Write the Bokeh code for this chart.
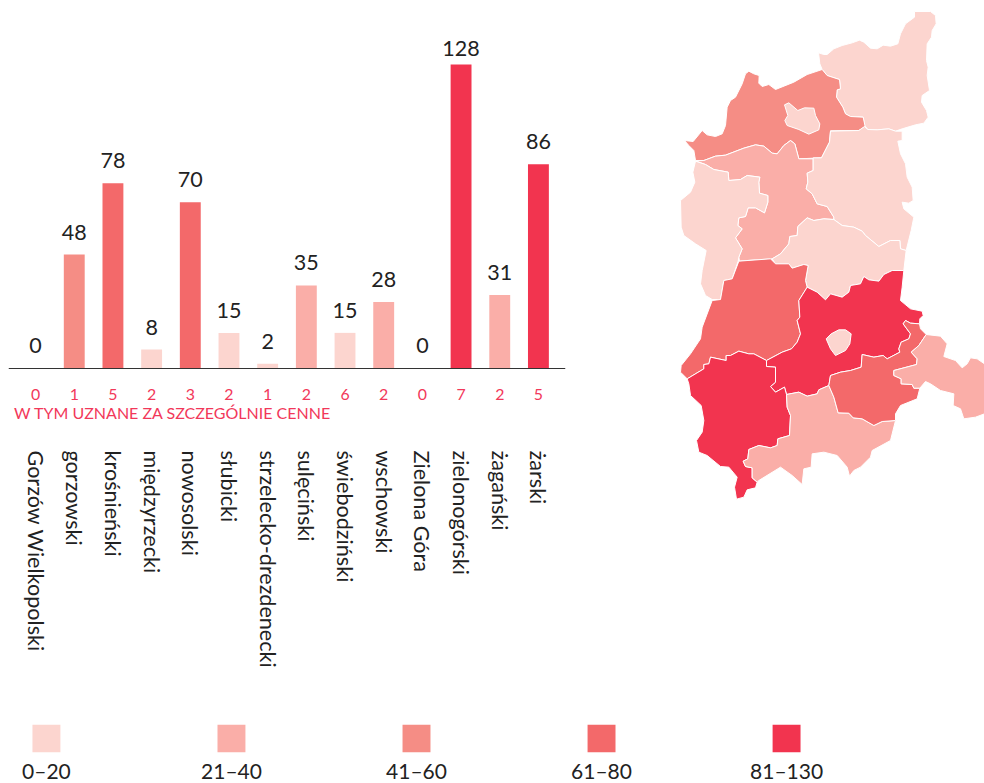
import math
from bokeh.plotting import figure
from bokeh.models import FactorRange, Range1d
from bokeh.layouts import row, column
from bokeh.core.properties import value
from bokeh.embed import file_html
from bokeh.resources import INLINE

FONT = "Lato"
categories = ["Gorzów Wielkopolski", "gorzowski", "krośnieński", "międzyrzecki", "nowosolski", "słubicki",
              "strzelecko-drezdenecki", "sulęciński", "świebodziński", "wschowski", "Zielona Góra",
              "zielonogórski", "żagański", "żarski"]
totals = [0, 48, 78, 8, 70, 15, 2, 35, 15, 28, 0, 128, 31, 86]
special = [0, 1, 5, 2, 3, 2, 1, 2, 6, 2, 0, 7, 2, 5]
bin_labels = ["0–20", "21–40", "41–60", "61–80", "81–130"]
bin_tops = [20, 40, 60, 80, 130]
bin_colors = ["#fcd5cf", "#faaea8", "#f58d85", "#f3696a", "#f2344f"]
note = "W TYM UZNANE ZA SZCZEGÓLNIE CENNE"

# county outlines (map units)
strzelecko = [(474,157),(490,162),(500,162),(520,145),(545,135),(575,127),(597,119),(610,125),(630,143),(650,145),(668,134),(690,137),(712,130),(720,100),(735,70),(762,50),(762,33),(810,33),(825,45),(827,70),(815,90),(813,110),(800,130),(798,180),(803,200),(800,225),(807,270),(785,285),(783,305),(798,330),(803,350),(790,368),(765,373),(725,385),(705,392),(685,385),(650,388),(622,387),(612,375),(608,350),(570,348),(555,340),(547,320),(528,290),(530,268),(540,265),(537,237),(515,230),(500,225),(485,207),(478,190)]
gorzowski = [(72,420),(98,423),(125,390),(140,403),(165,408),(185,400),(195,375),(200,320),(210,300),(225,290),(245,250),(255,220),(265,212),(280,220),(296,225),(295,248),(305,258),(325,252),(345,267),(400,245),(440,222),(485,207),(500,225),(515,230),(537,237),(540,265),(530,268),(528,290),(547,320),(555,340),(570,348),(608,350),(614,378),(595,390),(510,391),(507,425),(483,472),(415,475),(403,430),(390,420),(370,435),(350,460),(335,458),(310,437),(285,433),(250,443),(195,464),(165,467),(130,480),(105,480),(100,450),(85,435)]
gorzow = [(372,313),(385,307),(412,330),(432,322),(460,323),(465,345),(478,370),(475,388),(445,401),(415,387),(380,375),(373,360),(382,345)]
sulecinski = [(105,481),(130,480),(165,467),(195,464),(250,443),(285,433),(310,437),(335,458),(350,460),(370,435),(390,420),(403,430),(415,475),(458,475),(458,510),(440,518),(442,545),(437,565),(455,580),(470,610),(500,618),(520,650),(520,657),(490,655),(460,660),(440,652),(412,678),(410,705),(388,708),(385,730),(360,760),(335,775),(260,780),(237,782),(235,770),(245,745),(225,712),(245,685),(232,675),(235,652),(255,648),(263,622),(285,622),(312,637),(322,605),(322,585),(297,578),(295,545),(298,530),(260,525),(240,537),(205,540),(203,515),(160,507),(135,492)]
slubicki = [(105,482),(135,492),(160,507),(203,515),(205,540),(240,537),(260,525),(298,530),(295,545),(297,578),(322,585),(322,605),(312,637),(285,622),(263,622),(255,648),(235,652),(232,675),(245,685),(225,712),(245,745),(235,770),(233,782),(215,835),(190,840),(180,897),(155,897),(135,885),(120,850),(125,810),(137,750),(105,730),(70,705),(62,680),(60,600),(90,575),(103,545),(97,515)]
miedzyrzecki = [(510,392),(595,390),(612,378),(622,387),(650,388),(685,385),(705,392),(725,392),(725,420),(712,422),(720,460),(735,490),(740,530),(755,560),(758,600),(745,608),(725,605),(730,625),(760,650),(752,690),(737,750),(720,745),(718,720),(690,720),(655,738),(615,705),(605,692),(580,680),(545,675),(520,657),(520,650),(500,618),(470,610),(455,580),(437,565),(442,545),(440,518),(458,510),(458,472),(483,472),(507,425)]
swiebodzinski = [(490,655),(520,657),(545,675),(580,680),(605,692),(615,705),(655,738),(690,720),(718,720),(720,745),(737,750),(730,810),(695,810),(670,822),(655,842),(625,838),(610,828),(600,850),(570,855),(565,875),(545,890),(510,880),(495,898),(470,875),(440,860),(435,840),(443,795),(430,792),(395,803),(385,790),(345,790),(335,775),(360,760),(385,730),(388,708),(410,705),(412,678),(440,652),(460,660)]
krosnienski = [(235,782),(330,775),(345,790),(385,790),(395,803),(430,792),(443,795),(435,840),(440,860),(415,900),(418,950),(410,960),(420,1000),(410,1025),(393,1045),(365,1055),(318,1080),(280,1060),(265,1060),(235,1052),(210,1065),(197,1065),(197,1080),(150,1070),(145,1090),(130,1092),(130,1105),(80,1135),(60,1115),(62,1095),(90,1060),(120,1015),(125,980),(155,900),(180,897),(190,840),(215,835)]
zielonogorski = [(440,860),(470,875),(495,898),(510,880),(545,890),(565,875),(570,855),(600,850),(610,828),(625,838),(655,842),(670,822),(695,810),(730,810),(725,860),(720,900),(750,925),(785,932),(788,945),(778,955),(777,970),(750,968),(735,960),(728,970),(750,1000),(745,1015),(722,1025),(715,1045),(718,1055),(680,1075),(668,1065),(640,1070),(605,1062),(602,1100),(570,1110),(540,1115),(510,1125),(505,1155),(475,1168),(470,1180),(440,1187),(415,1175),(378,1182),(372,1160),(345,1175),(330,1158),(345,1145),(345,1100),(318,1098),(318,1080),(365,1055),(393,1045),(410,1025),(420,1000),(410,960),(418,950),(415,900)]
zielona_gora = [(497,1015),(512,1000),(535,988),(555,988),(572,1000),(568,1030),(555,1050),(525,1065),(510,1045)]
zarski = [(80,1135),(130,1105),(130,1092),(145,1090),(150,1070),(197,1080),(197,1065),(210,1065),(235,1052),(265,1060),(280,1060),(318,1080),(318,1098),(345,1100),(345,1145),(330,1158),(345,1175),(372,1160),(378,1182),(380,1220),(390,1245),(387,1305),(352,1315),(350,1335),(330,1342),(295,1335),(265,1347),(262,1375),(248,1382),(255,1398),(275,1402),(275,1432),(290,1445),(285,1462),(260,1468),(250,1490),(228,1496),(222,1460),(230,1430),(205,1400),(180,1398),(140,1365),(115,1355),(108,1320),(125,1295),(130,1260),(122,1215),(90,1185),(85,1150)]
zaganski = [(378,1182),(415,1175),(440,1187),(470,1180),(475,1168),(505,1155),(520,1190),(533,1237),(565,1238),(578,1252),(605,1255),(640,1275),(665,1263),(705,1260),(690,1320),(635,1350),(630,1370),(600,1400),(580,1410),(567,1427),(560,1400),(530,1365),(490,1355),(455,1360),(452,1400),(430,1405),(425,1452),(395,1425),(360,1400),(295,1440),(290,1445),(275,1432),(275,1402),(255,1398),(248,1382),(262,1375),(265,1347),(295,1335),(330,1342),(350,1335),(352,1315),(387,1305),(390,1245),(380,1220)]
nowosolski = [(505,1155),(510,1125),(540,1115),(570,1110),(602,1100),(605,1062),(640,1070),(668,1065),(680,1075),(718,1055),(715,1045),(722,1025),(745,1015),(750,1000),(728,970),(735,960),(750,968),(777,970),(780,985),(797,1002),(775,1035),(752,1055),(770,1075),(768,1092),(700,1110),(700,1125),(722,1135),(722,1150),(755,1152),(760,1163),(778,1163),(770,1195),(720,1215),(705,1240),(705,1260),(665,1263),(640,1275),(605,1255),(578,1252),(565,1238),(533,1237),(520,1190)]
wschowski = [(797,1002),(840,1007),(860,1030),(850,1068),(885,1080),(905,1102),(920,1090),(930,1072),(950,1075),(972,1090),(972,1240),(945,1250),(910,1255),(900,1225),(878,1215),(880,1180),(840,1170),(810,1150),(795,1143),(778,1163),(760,1163),(755,1152),(722,1150),(722,1135),(700,1125),(700,1110),(768,1092),(770,1075),(752,1055),(775,1035)]

map_shapes = [("strzelecko-drezdenecki", strzelecko), ("gorzowski", gorzowski), ("Gorzów Wielkopolski", gorzow),
              ("sulęciński", sulecinski), ("słubicki", slubicki), ("międzyrzecki", miedzyrzecki),
              ("świebodziński", swiebodzinski), ("krośnieński", krosnienski), ("zielonogórski", zielonogorski),
              ("Zielona Góra", zielona_gora), ("żarski", zarski), ("żagański", zaganski),
              ("nowosolski", nowosolski), ("wschowski", wschowski)]


def shade(v):
    for top, col in zip(bin_tops, bin_colors):
        if v <= top:
            return col
    return bin_colors[-1]


TEXT = "#222222"
RED = "#f2385a"

# ---- bars: the frame reaches below the zero line so that the red count row can sit under it
bars = figure(width=658, height=690, frame_width=557, frame_height=682,
              x_range=FactorRange(factors=categories, range_padding=0.2, range_padding_units="absolute"),
              y_range=Range1d(-135.6, 151.6), y_axis_type=None,
              output_backend="svg", toolbar_location=None,
              min_border_left=8, min_border_top=8, min_border_right=93, min_border_bottom=0)
bars.outline_line_color = None
bars.grid.visible = False
bars.vbar(x=categories, top=totals, bottom=0, width=0.54, color=[shade(v) for v in totals], line_color=None)
# the tallest bar's label sits closer to its bar, as in the reference
bars.text(x=categories, y=totals, text=[str(v) for v in totals], text_align="center", text_baseline="bottom",
          y_offset=[-9 if v == max(totals) else -15 for v in totals],
          text_font=value(FONT), text_font_size="21.5px", text_color=TEXT)
bars.text(x=categories, y=[-11] * len(categories), text=[str(v) for v in special], text_align="center",
          text_baseline="middle", text_font=value(FONT), text_font_size="15.9px", text_color=RED)
bars.text(x=categories[:1], y=[-18.5], text=[note], text_align="left", text_baseline="middle", x_offset=-21.5,
          text_font=value(FONT), text_font_size="16px", text_color=RED)

ax = bars.xaxis[0]
ax.fixed_location = 0
ax.axis_line_color = "#333333"
ax.axis_line_width = 1
ax.major_tick_line_color = None
ax.minor_tick_line_color = None
ax.major_tick_out = 0
ax.major_label_standoff = 82
ax.major_label_orientation = -math.pi / 2
ax.major_label_text_font = FONT
ax.major_label_text_font_size = "21.6px"
ax.major_label_text_color = TEXT

# ---- map
mapfig = figure(width=326, height=690, frame_width=326, frame_height=690,
                x_range=Range1d(-6, 972), y_range=Range1d(2094, 24),
                x_axis_type=None, y_axis_type=None, output_backend="svg", toolbar_location=None,
                min_border=0)
mapfig.outline_line_color = None
mapfig.grid.visible = False
value_of = dict(zip(categories, totals))
mapfig.patches(xs=[[p[0] for p in s] for _, s in map_shapes],
               ys=[[p[1] for p in s] for _, s in map_shapes],
               fill_color=[shade(value_of[n]) for n, _ in map_shapes],
               line_color="#ffffff", line_width=1)

# ---- legend
legend = figure(width=984, height=93, frame_width=816, frame_height=28,
                x_range=FactorRange(factors=bin_labels, range_padding=-0.295, range_padding_units="absolute"),
                y_range=Range1d(0, 1), y_axis_type=None, output_backend="svg", toolbar_location=None,
                min_border_left=8, min_border_top=34, min_border_right=160, min_border_bottom=0)
legend.outline_line_color = None
legend.grid.visible = False
legend.vbar(x=bin_labels, top=1, bottom=0, width=0.151, color=bin_colors, line_color=None)
legend.xaxis.axis_line_color = None
legend.xaxis.major_tick_line_color = None
legend.xaxis.minor_tick_line_color = None
legend.xaxis.major_tick_out = 0
legend.xaxis.major_label_standoff = 5
legend.xaxis.major_label_text_font = FONT
legend.xaxis.major_label_text_font_size = "21px"
legend.xaxis.major_label_text_color = TEXT

page = column(row(bars, mapfig, spacing=0), legend, spacing=0)
open("out.html", "w").write(file_html(page, INLINE))
